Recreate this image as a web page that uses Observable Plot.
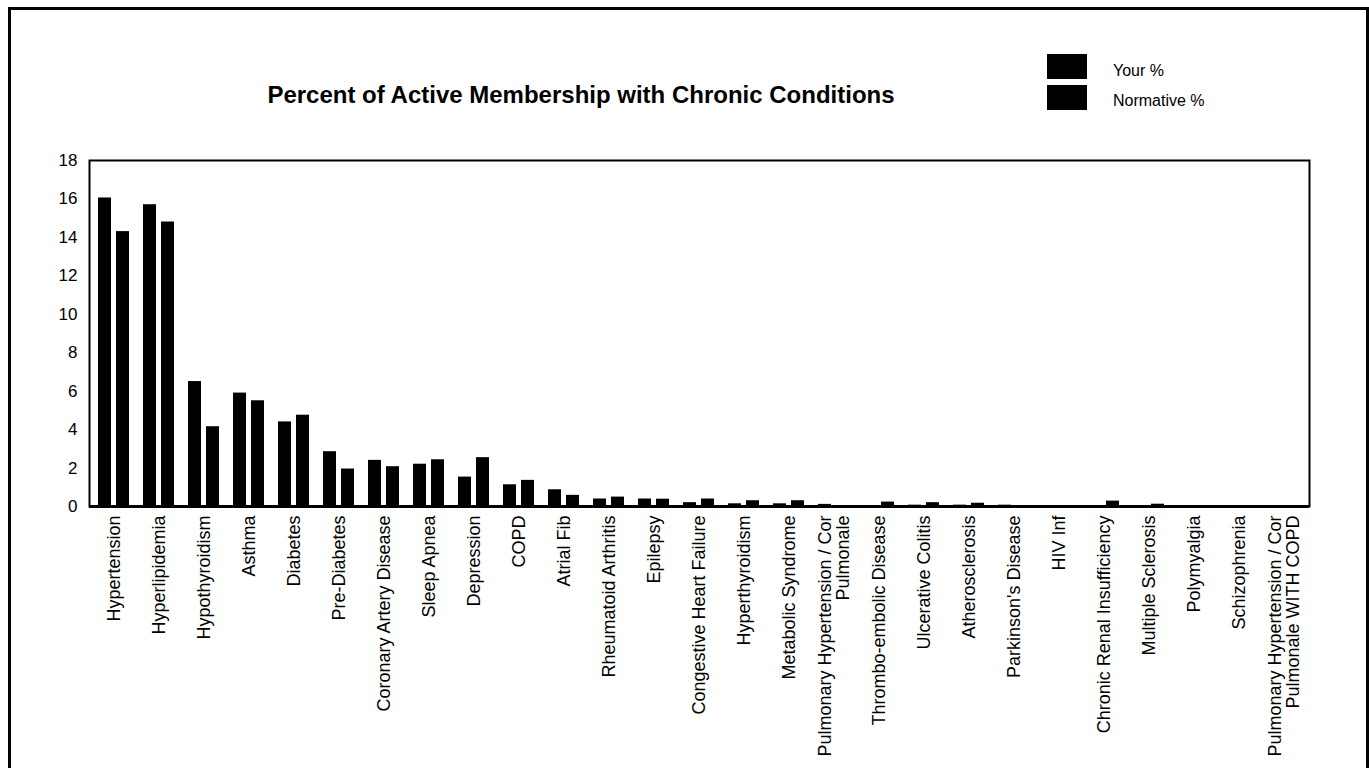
<!DOCTYPE html>
<html>
<head>
<meta charset="utf-8">
<script src="https://cdn.jsdelivr.net/npm/d3@7"></script>
<script src="https://cdn.jsdelivr.net/npm/@observablehq/plot@0.6"></script>
<style>
  html, body { margin: 0; padding: 0; background: #fff; overflow: hidden; width: 1369px; height: 768px; }
  body { position: relative; font-family: "Liberation Sans", Arial, sans-serif; color: #000; }
  #border { position: absolute; left: 8px; top: 7px; width: 1355px; height: 820px; border: 3px solid #000; }
  #chart { position: absolute; left: 0; top: 0; }
  #title { position: absolute; left: 581px; top: 83px; transform: translateX(-50%); font-weight: bold; font-size: 24px; line-height: 24px; white-space: nowrap; }
  .sw { position: absolute; left: 1047px; width: 40px; height: 25px; background: #000; }
  .lt { position: absolute; left: 1113px; font-size: 16px; line-height: 16px; white-space: nowrap; }
</style>
</head>
<body>
<div id="border"></div>
<div id="chart"></div>
<div id="title"></div>
<div id="legend"></div>
<script>
const titleText = "Percent of Active Membership with Chronic Conditions";
const seriesNames = ["Your %", "Normative %"];
const categories = [
  "Hypertension", "Hyperlipidemia", "Hypothyroidism", "Asthma", "Diabetes",
  "Pre-Diabetes", "Coronary Artery Disease", "Sleep Apnea", "Depression", "COPD",
  "Atrial Fib", "Rheumatoid Arthritis", "Epilepsy", "Congestive Heart Failure",
  "Hyperthyroidism", "Metabolic Syndrome", "Pulmonary Hypertension / Cor\nPulmonale",
  "Thrombo-embolic Disease", "Ulcerative Colitis", "Atherosclerosis",
  "Parkinson's Disease", "HIV Inf", "Chronic Renal Insufficiency",
  "Multiple Sclerosis", "Polymyalgia", "Schizophrenia",
  "Pulmonary Hypertension / Cor\nPulmonale WITH COPD"
];
const yourPct = [
  16.05, 15.7, 6.5, 5.9, 4.4,
  2.85, 2.4, 2.2, 1.53, 1.13,
  0.87, 0.39, 0.39, 0.2,
  0.14, 0.14, 0.11,
  0.02, 0.07, 0.07,
  0.07, 0.05, 0.02,
  0.01, 0.0, 0.0,
  0.0
];
const normativePct = [
  14.3, 14.8, 4.15, 5.5, 4.75,
  1.95, 2.07, 2.43, 2.54, 1.36,
  0.58, 0.49, 0.38, 0.39,
  0.3, 0.3, 0.03,
  0.23, 0.2, 0.17,
  0.02, 0.02, 0.28,
  0.12, 0.03, 0.0,
  0.0
];
const yTicks = [0, 2, 4, 6, 8, 10, 12, 14, 16, 18];

const rows = categories.map((c, i) => ({condition: c, your: yourPct[i], norm: normativePct[i]}));

const font = '"Liberation Sans", Arial, sans-serif';
const chart = Plot.plot({
  width: 1369,
  height: 768,
  marginTop: 160,
  marginBottom: 262,
  marginLeft: 89,
  marginRight: 60,
  style: {fontFamily: font, color: "#000", background: "transparent", overflow: "visible"},
  x: {domain: categories, paddingInner: 0.3, paddingOuter: 0.15},
  y: {domain: [0, 18]},
  marks: [
    Plot.barY(rows, {x: "condition", y: "your", fill: "#000", insetRight: 18}),
    Plot.barY(rows, {x: "condition", y: "norm", fill: "#000", insetLeft: 18}),
    Plot.frame({stroke: "#000", strokeWidth: 2}),
    Plot.ruleY([0], {stroke: "#000", strokeWidth: 3}),
    Plot.axisY({ticks: yTicks, tickSize: 0, tickPadding: 12, fontSize: 17, label: null}),
    Plot.axisX({tickSize: 0, tickPadding: 9, tickRotate: -90, fontSize: 18, label: null})
  ]
});
document.getElementById("chart").appendChild(chart);
document.getElementById("title").textContent = titleText;

const legend = document.getElementById("legend");
const swTops = [54, 85];
const textTops = [63, 93];
seriesNames.forEach((s, i) => {
  const sw = document.createElement("div");
  sw.className = "sw";
  sw.style.top = swTops[i] + "px";
  legend.appendChild(sw);
  const t = document.createElement("div");
  t.className = "lt";
  t.style.top = textTops[i] + "px";
  t.textContent = s;
  legend.appendChild(t);
});
</script>
</body>
</html>
